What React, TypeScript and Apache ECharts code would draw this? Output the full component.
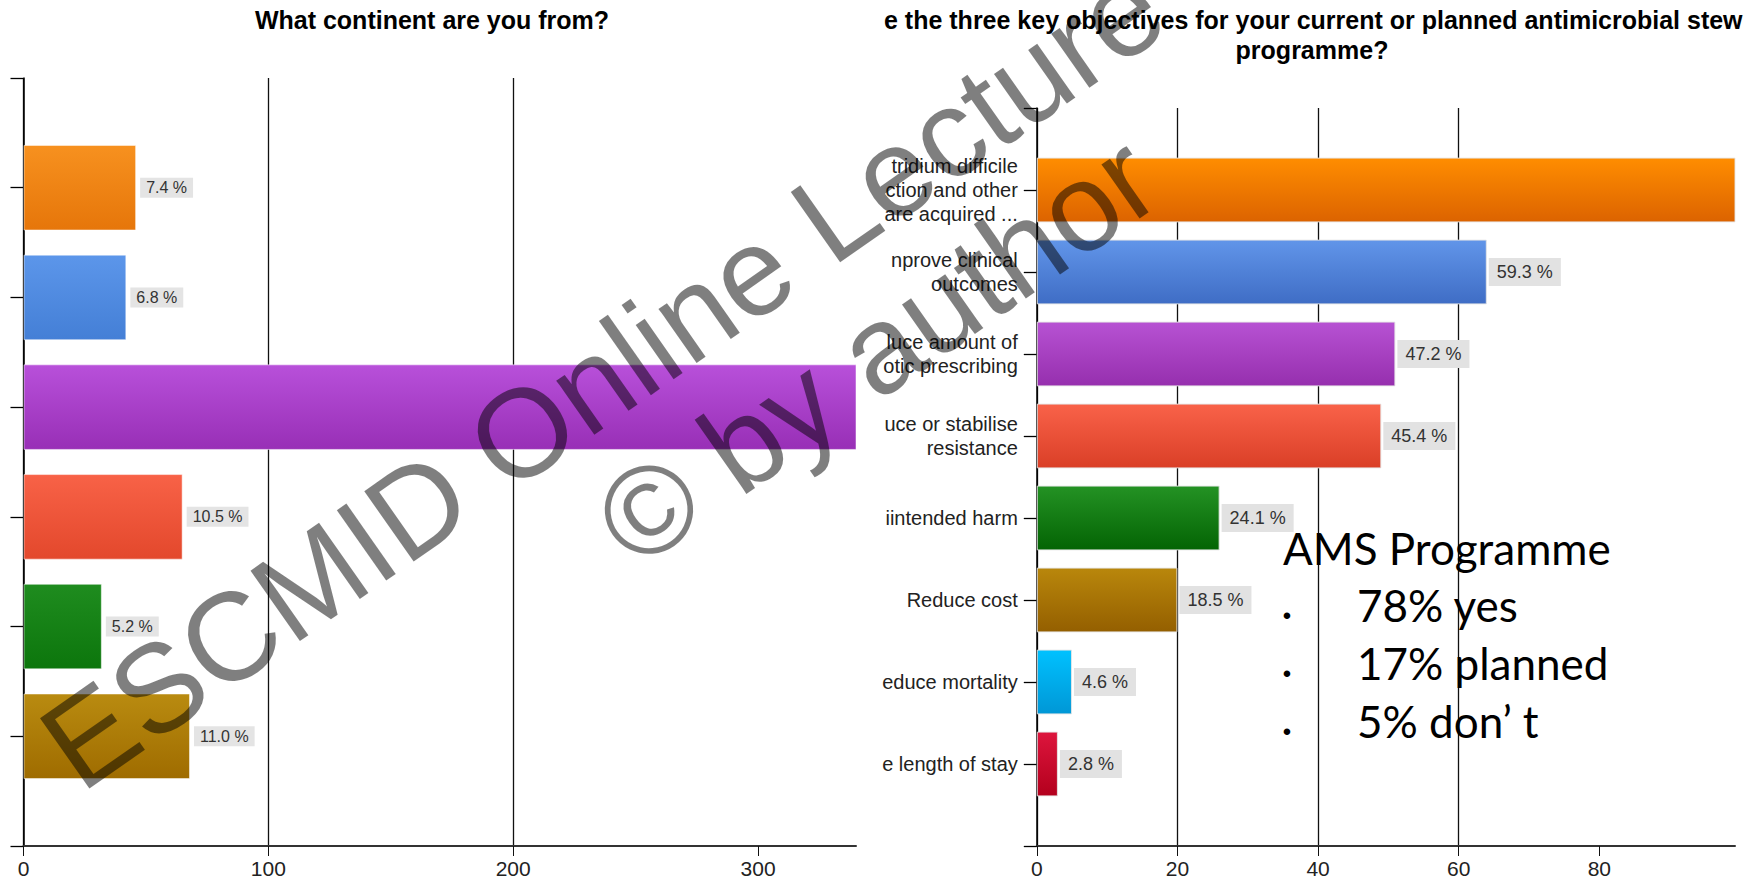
import React, { useEffect, useRef } from "react";
import * as echarts from "echarts";

// ---------- data ----------
// Left panel: "What continent are you from?" (continent names are cropped out of the picture)
const leftCategories = ["", "", "", "", "", "", "", ""];
const leftCounts: (number | null)[] = [null, 46, 42, 367, 65, 32, 68, null];
const leftPercents = ["", "7.4 %", "6.8 %", "59.2 %", "10.5 %", "5.2 %", "11.0 %", ""];
const leftTicks = [0, 100, 200, 300];
const leftMax = 340;

// Right panel: key objectives (labels cropped on their left side as in the picture)
const rightCategories = [
  "",
  "tridium difficile\nction and other\nare acquired ...",
  "nprove clinical\noutcomes",
  "luce amount of\notic prescribing",
  "uce or stabilise\nresistance",
  "iintended harm",
  "Reduce cost",
  "educe mortality",
  "e length of stay",
  "",
];
const rightCounts: (number | null)[] = [null, 101, 64, 51, 49, 26, 20, 5, 3, null];
const rightPercents = ["", "93.5 %", "59.3 %", "47.2 %", "45.4 %", "24.1 %", "18.5 %", "4.6 %", "2.8 %", ""];
const rightTicks = [0, 20, 40, 60, 80];
const rightMax = 99.3;

const leftTitle = "What continent are you from?";
const rightTitle1 = "e the three key objectives for your current or planned antimicrobial stew";
const rightTitle2 = "programme?";
const amsHeading = "AMS Programme";
const amsLines = ["78% yes", "17% planned", "5% don\u2019 t"];
const watermark1 = "ESCMID Online Lecture";
const watermark2 = "\u00A9 by author";

const leftColors = [
  ["#fff", "#fff"],
  ["#f7911f", "#e6760a"],
  ["#5c96ea", "#447fd6"],
  ["#b850da", "#982fb6"],
  ["#f86247", "#e3482c"],
  ["#1f8c1f", "#0c760c"],
  ["#b98b10", "#9f6c00"],
  ["#fff", "#fff"],
];
const rightColors = [
  ["#fff", "#fff"],
  ["#ff8d00", "#dc6300"],
  ["#6195e9", "#3f6dc5"],
  ["#b752d3", "#962fae"],
  ["#f96249", "#da3f27"],
  ["#249224", "#046404"],
  ["#b9870c", "#945f00"],
  ["#00c1ff", "#0097d6"],
  ["#dd153d", "#b3001d"],
  ["#fff", "#fff"],
];

const SANS = '"Liberation Sans", Arial, sans-serif';

function grad(c: string[]) {
  return new echarts.graphic.LinearGradient(0, 0, 0, 1, [
    { offset: 0, color: c[0] },
    { offset: 1, color: c[1] },
  ]);
}

function text(
  t: string,
  x: number,
  y: number,
  font: string,
  align: string,
  fill = "#000",
  extra: any = {}
) {
  return {
    type: "text",
    x,
    y,
    z: 50,
    ...extra,
    style: {
      text: t,
      font,
      fill,
      textAlign: align,
      align,
      textVerticalAlign: "middle",
      verticalAlign: "middle",
    },
  };
}

export default function App() {
  const ref = useRef<HTMLDivElement>(null);

  useEffect(() => {
    if (!ref.current) return;
    const chart = echarts.init(ref.current, undefined, { renderer: "svg" });

    const leftData = leftCounts.map((v, i) => ({
      value: v == null ? "-" : v,
      itemStyle: { color: grad(leftColors[i]) },
      label: { show: v != null && v < leftMax },
    }));
    const rightData = rightCounts.map((v, i) => ({
      value: v == null ? "-" : v,
      itemStyle: { color: grad(rightColors[i]) },
      label: { show: v != null && v < rightMax },
    }));

    const rot = (35 * Math.PI) / 180;

    chart.setOption({
      animation: false,
      backgroundColor: "#ffffff",
      grid: [
        { left: 23.5, top: 78, width: 832.5, height: 768 },
        { left: 1036.8, top: 108, width: 698.2, height: 738 },
      ],
      xAxis: [
        {
          type: "value",
          gridIndex: 0,
          min: 0,
          max: leftMax,
          interval: 100,
          axisLine: { show: true, lineStyle: { color: "#333", width: 2 } },
          axisTick: { show: true, length: 10, customValues: leftTicks, lineStyle: { color: "#111" } },
          axisLabel: {
            customValues: leftTicks,
            fontSize: 21,
            fontFamily: SANS,
            color: "#222",
            margin: 12,
          },
          splitLine: { show: true, showMaxLine: false, lineStyle: { color: "#111", width: 1.3 } },
        },
        {
          type: "value",
          gridIndex: 1,
          min: 0,
          max: rightMax,
          interval: 20,
          axisLine: { show: true, lineStyle: { color: "#333", width: 2 } },
          axisTick: { show: true, length: 10, customValues: rightTicks, lineStyle: { color: "#111" } },
          axisLabel: {
            customValues: rightTicks,
            fontSize: 21,
            fontFamily: SANS,
            color: "#222",
            margin: 12,
          },
          splitLine: { show: true, showMaxLine: false, lineStyle: { color: "#111", width: 1.3 } },
        },
      ],
      yAxis: [
        {
          type: "category",
          gridIndex: 0,
          inverse: true,
          boundaryGap: false,
          data: leftCategories,
          axisLine: { show: true, lineStyle: { color: "#000", width: 1.5 } },
          axisTick: { show: true, length: 13, interval: 0, lineStyle: { color: "#000", width: 1.3 } },
          axisLabel: { show: false },
          splitLine: { show: false },
        },
        {
          type: "category",
          gridIndex: 1,
          inverse: true,
          boundaryGap: false,
          data: rightCategories,
          axisLine: { show: true, lineStyle: { color: "#000", width: 1.5 } },
          axisTick: { show: true, length: 13, interval: 0, lineStyle: { color: "#000", width: 1.3 } },
          axisLabel: {
            interval: 0,
            fontSize: 20,
            lineHeight: 24,
            fontFamily: SANS,
            color: "#222",
            margin: 19,
          },
          splitLine: { show: false },
        },
      ],
      series: [
        {
          type: "bar",
          xAxisIndex: 0,
          yAxisIndex: 0,
          barWidth: "78%",
          clip: true,
          data: leftData,
          itemStyle: { borderColor: "rgba(255,255,255,0.5)", borderWidth: 1 },
          label: {
            position: "right",
            distance: 4,
            formatter: (p: any) => leftPercents[p.dataIndex],
            backgroundColor: "#e4e4e4",
            padding: [2, 6],
            fontSize: 16,
            fontFamily: SANS,
            color: "#333",
          },
        },
        {
          type: "bar",
          xAxisIndex: 1,
          yAxisIndex: 1,
          barWidth: "79%",
          clip: true,
          data: rightData,
          itemStyle: { borderColor: "rgba(230,230,230,0.9)", borderWidth: 1 },
          label: {
            position: "right",
            distance: 2,
            formatter: (p: any) => rightPercents[p.dataIndex],
            backgroundColor: "#e2e2e2",
            padding: [5, 8],
            fontSize: 18,
            fontFamily: SANS,
            color: "#333",
          },
        },
      ],
      graphic: [
        text(leftTitle, 432, 20, `bold 25px ${SANS}`, "center", "#000"),
        text(rightTitle1, 884, 20, `bold 25px ${SANS}`, "left", "#000"),
        text(rightTitle2, 1312, 50, `bold 25px ${SANS}`, "center", "#000"),
        text(amsHeading, 1283, 548, `44px Lato, "Open Sans", sans-serif`, "left", "#000", { z: 60 }),
        ...amsLines.map((l, i) =>
          text(l, 1357, 605 + i * 58, `44px Lato, "Open Sans", sans-serif`, "left", "#000", { z: 60 })
        ),
        ...amsLines.map((_, i) =>
          text("\u2022", 1287, 615 + i * 58, `24px ${SANS}`, "center", "#000", { z: 60 })
        ),
        text(watermark1, 56, 759, `125px ${SANS}`, "left", "rgba(0,0,0,0.5)", { rotation: rot, z: 100 }),
        text(watermark2, 611, 536, `125px ${SANS}`, "left", "rgba(0,0,0,0.5)", { rotation: rot, z: 100 }),
      ],
    });

    return () => chart.dispose();
  }, []);

  return (
    <div
      ref={ref}
      style={{ position: "fixed", left: 0, top: 0, width: 1752, height: 881, background: "#fff" }}
    />
  );
}
